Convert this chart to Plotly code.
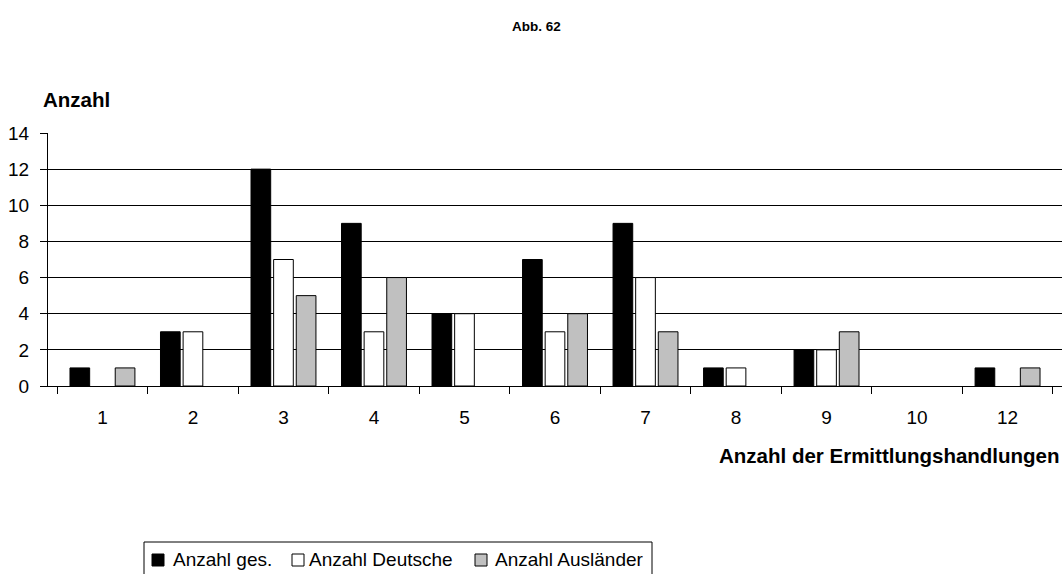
import plotly.graph_objects as go

categories = ["1", "2", "3", "4", "5", "6", "7", "8", "9", "10", "12"]
gesamt = [1, 3, 12, 9, 4, 7, 9, 1, 2, 0, 1]
deutsche = [0, 3, 7, 3, 4, 3, 6, 1, 2, 0, 0]
auslaender = [1, 0, 5, 6, 0, 4, 3, 0, 3, 0, 1]
series_names = ["Anzahl ges.", "Anzahl Deutsche", "Anzahl Ausländer"]
series_colors = ["black", "white", "#C0C0C0"]

FONT = "Liberation Sans, Arial, sans-serif"
W, H = 1063, 574
L, R, T, B = 48, 1, 133, 188
PW, PH = W - L - R, H - T - B


def px(x):
    return (x - L) / PW


def py(y):
    return (H - B - y) / PH


fig = go.Figure()
line = dict(color="black", width=1)
for name, vals, col in zip(series_names, [gesamt, deutsche, auslaender], series_colors):
    # zero counts are drawn as no bar at all, as in the original
    fig.add_trace(go.Bar(x=categories, y=[v if v else None for v in vals], name=name,
                         marker=dict(color=col, line=line), showlegend=False))
# invisible trace carrying gridlines on an overlay axis (no gridline at 14)
fig.add_trace(go.Scatter(x=categories, y=[0] * len(categories), yaxis="y2",
                         mode="markers", marker=dict(opacity=0),
                         showlegend=False, hoverinfo="skip"))

shapes = []
annotations = [
    dict(text="<b>Abb. 62</b>", xref="paper", yref="paper",
         x=px(536), y=py(26), showarrow=False, font=dict(size=13.5),
         xanchor="center", yanchor="middle"),
    dict(text="<b>Anzahl</b>", xref="paper", yref="paper",
         x=px(41), y=py(99), showarrow=False, font=dict(size=20.5),
         xanchor="left", yanchor="middle"),
    dict(text="<b>Anzahl der Ermittlungshandlungen</b>", xref="paper", yref="paper",
         x=px(1062), y=py(455), showarrow=False, font=dict(size=20.5),
         xanchor="right", yanchor="middle"),
]

# legend box drawn by hand to match the compact original layout
shapes.append(dict(type="rect", xref="paper", yref="paper",
                   x0=px(144), x1=px(652), y0=py(600), y1=py(542),
                   line=dict(color="black", width=1), fillcolor="white"))
sq_x = [152, 292, 475]
txt_x = [171, 307, 493]
for name, col, sx, tx in zip(series_names, series_colors, sq_x, txt_x):
    shapes.append(dict(type="rect", xref="paper", yref="paper",
                       x0=px(sx), x1=px(sx + 12), y0=py(566), y1=py(554),
                       line=dict(color="black", width=1), fillcolor=col))
    annotations.append(dict(text=name, xref="paper", yref="paper",
                            x=px(tx), y=py(559), showarrow=False,
                            font=dict(size=19), xanchor="left", yanchor="middle"))

fig.update_layout(
    width=W, height=H,
    margin=dict(l=L, r=R, t=T, b=B, autoexpand=False),
    paper_bgcolor="white", plot_bgcolor="white",
    font=dict(family=FONT, size=19, color="black"),
    barmode="group", bargap=0.25, bargroupgap=0.13,
    showlegend=False,
    xaxis=dict(type="category", showline=True, linecolor="black", linewidth=1,
               ticks="outside", ticklen=7, tickcolor="black",
               tickson="boundaries", showgrid=False, zeroline=False,
               tickfont=dict(size=19), ticklabelstandoff=14),
    yaxis=dict(range=[0, 14], tickvals=list(range(0, 15, 2)),
               showline=True, linecolor="black", linewidth=1,
               ticks="outside", ticklen=7, tickcolor="black",
               showgrid=False, zeroline=False, tickfont=dict(size=19),
               ticklabelstandoff=7),
    yaxis2=dict(range=[0, 14], overlaying="y", tickvals=list(range(2, 13, 2)),
                showgrid=True, gridcolor="black", gridwidth=1,
                showticklabels=False, showline=False, zeroline=False,
                layer="below traces"),
    shapes=shapes,
    annotations=annotations,
)

fig.write_html(
    "out.html",
    config={"displayModeBar": False},
    post_script="document.body.style.margin='0';document.body.style.overflow='hidden';",
)
